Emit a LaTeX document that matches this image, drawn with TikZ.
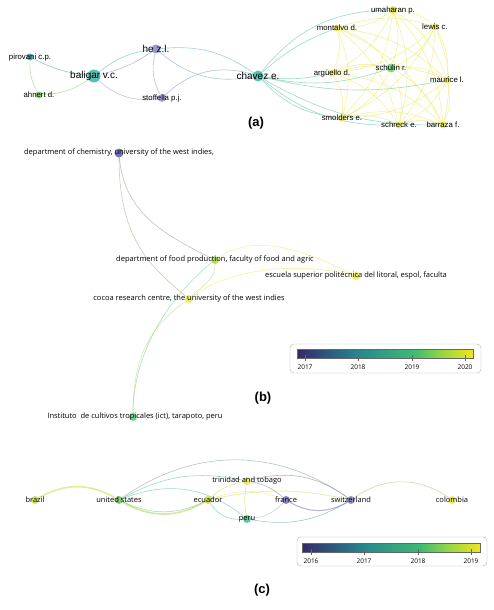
\documentclass[tikz,border=0pt]{standalone}
\usepackage{fontspec}
\setmainfont{Liberation Sans}
\newfontfamily\osans{Open Sans}
\pgfdeclarelayer{background}
\pgfsetlayers{background,main}
% colours of the year scale
\definecolor{vA}{HTML}{34296A}
\definecolor{vB}{HTML}{24858E}
\definecolor{vC}{HTML}{3CBC74}
\definecolor{vD}{HTML}{93D741}
\definecolor{vE}{HTML}{F2E51D}
\pgfdeclarehorizontalshading{viridis}{100bp}{color(0bp)=(vA); color(25bp)=(vA);
  color(41.7bp)=(vB); color(58.3bp)=(vC); color(66bp)=(vD); color(75bp)=(vE); color(100bp)=(vE)}
% node colours
\definecolor{cPir}{HTML}{3E9EA2}
\definecolor{cAhn}{HTML}{7CCF5C}
\definecolor{cBal}{HTML}{3FB3A8}
\definecolor{cCha}{HTML}{3DB5A2}
\definecolor{cHe}{HTML}{8884C6}
\definecolor{cSto}{HTML}{9896D0}
\definecolor{cYel}{HTML}{ECE64A}
\definecolor{cSch}{HTML}{6CCB7A}
\definecolor{cChem}{HTML}{5C5AA8}
\definecolor{cFood}{HTML}{A8D84A}
\definecolor{cIns}{HTML}{5DCA80}
\definecolor{cYG}{HTML}{C6DC40}
\definecolor{cUsa}{HTML}{6CC060}
\definecolor{cPur}{HTML}{7472B4}
\definecolor{cPer}{HTML}{40BE92}
\begin{document}
\begin{tikzpicture}[x=1pt,y=-1pt,
  au/.style={circle,inner sep=0pt,minimum size=#1,opacity=.85},
  au/.default=7pt,
  lbl/.style={inner sep=0pt,font=\fontsize{7.8}{8}\selectfont},
  big/.style={inner sep=0pt,font=\fontsize{10}{10}\selectfont},
  org/.style={inner sep=0pt,font=\osans\fontsize{7.5}{8}\selectfont},
  link/.style={line width=.6pt,opacity=.55},
  tag/.style={inner sep=0pt,font=\bfseries\fontsize{13}{14}\selectfont},
  yr/.style={inner sep=0pt,font=\osans\fontsize{6.5}{7}\selectfont}]
\useasboundingbox (0,0) rectangle (493,610);
% (a) authors
\node[au,fill=cPir] (pir) at (30,57) {};
\node[au,fill=cAhn] (ahn) at (39,95) {};
\node[au=13pt,fill=cBal] (bal) at (94,76) {};
\node[au=9pt,fill=cHe] (hez) at (156,49) {};
\node[au=8pt,fill=cSto] (sto) at (162,98) {};
\node[au=11pt,fill=cCha] (cha) at (258,76) {};
\node[au=8pt,fill=cYel!85!cSch] (uma) at (393,10) {};
\node[au,fill=cYel] (mon) at (337,28) {};
\node[au,fill=cYel] (lew) at (435,27) {};
\node[au,fill=cYel] (arg) at (332,73) {};
\node[au=9pt,fill=cSch] (sch) at (391,68) {};
\node[au,fill=cYel] (mau) at (447,80) {};
\node[au,fill=cYel] (smo) at (342,118) {};
\node[au,fill=cYel] (shr) at (399,125) {};
\node[au,fill=cYel] (bar) at (443,125) {};
\node[lbl] at (pir) {pirovani c.p.};
\node[lbl] at (ahn) {ahnert d.};
\node[big] at (bal) {baligar v.c.};
\node[big] at (hez) {he z.l.};
\node[lbl] at (sto) {stoffella p.j.};
\node[big] at (cha) {chavez e.};
\node[lbl] at (uma) {umaharan p.};
\node[lbl] at (mon) {montalvo d.};
\node[lbl] at (lew) {lewis c.};
\node[lbl] at (arg) {argüello d.};
\node[lbl] at (sch) {schulin r.};
\node[lbl] at (mau) {maurice l.};
\node[lbl] at (smo) {smolders e.};
\node[lbl] at (shr) {schreck e.};
\node[lbl] at (bar) {barraza f.};
\node[tag] (ta) at (256,123) {(a)};
\begin{pgfonlayer}{background}
\draw[link,cPir] (pir) to[bend right=10] (bal);
\draw[link,cAhn] (pir) to[bend right=15] (ahn);
\draw[link,cAhn] (ahn) to[bend right=15] (bal);
\draw[link,cBal] (bal) to[bend left=15] (hez);
\draw[link,cHe] (bal) to[bend right=10] (hez);
\draw[link,cSto!70!cBal] (bal) to[bend right=25] (sto);
\draw[link,cHe] (hez) to[bend right=20] (sto);
\draw[link,cBal] (hez) to[bend left=20] (cha);
\draw[link,cHe!60!cBal] (hez) to[bend right=25] (cha);
\draw[link,cHe!70!cBal] (sto) to[bend left=30] (cha);
\foreach \t/\b in {uma/25,mon/10,arg/-10,sch/-15,mau/-12,smo/-20,shr/-20,bar/-15}
  \draw[link,cBal!70!cSch] (cha) to[bend left=\b] (\t);
\foreach \s/\t in {uma/mon,uma/lew,uma/arg,uma/sch,uma/mau,uma/smo,uma/shr,uma/bar,
  mon/lew,mon/arg,mon/sch,mon/mau,mon/smo,mon/shr,mon/bar,lew/arg,lew/sch,lew/mau,
  lew/smo,lew/shr,lew/bar,arg/sch,arg/mau,arg/smo,arg/shr,arg/bar,sch/mau,sch/smo,
  sch/shr,sch/bar,mau/smo,mau/shr,mau/bar,smo/shr,smo/bar,shr/bar}
  \draw[link,cYel] (\s) to[bend left=18] (\t);
\end{pgfonlayer}
% (b) organizations
\node[au=9pt,fill=cChem] (chem) at (119,153) {};
\node[au=8pt,fill=cFood] (food) at (215,260) {};
\node[au=8pt,fill=cYel] (esc) at (356,276) {};
\node[au=8pt,fill=cYel] (coc) at (189,299) {};
\node[au=8pt,fill=cIns] (ins) at (133,417) {};
\node[org] at (chem) {department of chemistry, university of the west indies,};
\node[org] at (food) {department of food production, faculty of food and agric};
\node[org] at (esc) {escuela superior politécnica del litoral, espol, faculta};
\node[org] at (coc) {cocoa research centre, the university of the west indies};
\node[org] at ([xshift=2pt]ins) {Instituto\ \ de cultivos tropicales (ict), tarapoto, peru};
\node[tag] (tb) at (263,398) {(b)};
\begin{pgfonlayer}{background}
\draw[link,cChem!50!cFood] (chem) .. controls +(5,60) and +(-50,-25) .. (food);
\draw[link,cChem!50!cYel] (chem) .. controls +(0,90) and +(-35,-30) .. (coc);
\draw[link,cYel] (food) .. controls +(40,-28) and +(-50,-25) .. (esc);
\draw[link,cYel] (coc) .. controls +(40,-30) and +(-60,-15) .. (esc);
\draw[link,cFood] (food) .. controls +(0,20) and +(15,-15) .. (coc);
\draw[link,cIns] (food) .. controls +(-50,40) and +(0,-60) .. (ins);
\draw[link,cYel!60!cIns] (coc) .. controls +(-35,25) and +(0,-65) .. (ins);
\end{pgfonlayer}
% (b) year scale
\draw[gray!60,rounded corners=4pt] (290,344) rectangle (481,373);
\shade[shading=viridis] (297,349) rectangle (473,358);
\draw[gray!80!black,line width=.5pt] (297,349) rectangle (473,358);
\foreach \x/\y in {305/2017,358/2018,412/2019,465/2020} {
  \draw[gray!80!black] (\x,355) -- (\x,361);
  \node[yr] at (\x,367) {\y};
}
% (c) countries
\node[au=8pt,fill=cYG] (bra) at (35,500) {};
\node[au=8pt,fill=cUsa] (usa) at (119,500) {};
\node[au=8pt,fill=cYG] (ecu) at (208,500) {};
\node[au=8pt,fill=cYel!90!cSch] (tri) at (247,481) {};
\node[au=8pt,fill=cPur] (fra) at (286,500) {};
\node[au=8pt,fill=cPur!90!white] (swi) at (351,500) {};
\node[au=8pt,fill=cYel] (col) at (452,500) {};
\node[au=8pt,fill=cPer] (per) at (247,519) {};
\node[org] at (bra) {brazil};
\node[org] at (usa) {united states};
\node[org] at (ecu) {ecuador};
\node[org] at (tri) {trinidad and tobago};
\node[org] at (fra) {france};
\node[org] at (swi) {switzerland};
\node[org] at (col) {colombia};
\node[org] at (per) {peru};
\node[tag] (tc) at (262,590) {(c)};
\begin{pgfonlayer}{background}
\draw[link,cYG,line width=1.6pt] (bra) to[bend left=30] (usa);
\draw[link,cFood,line width=1.6pt] (usa) to[bend right=30] (ecu);
\draw[link,cUsa] (usa) to[bend right=25] (ecu);
\draw[link,cUsa!60!cBal] (usa) to[bend left=20] (tri);
\draw[link,cPer] (usa) to[bend left=30] (per);
\draw[link,cPur!50!cUsa] (usa) to[bend left=35] (swi);
\draw[link,cYG] (ecu) to[bend left=15] (tri);
\draw[link,cYel] (ecu) to[bend left=20] (fra);
\draw[link,cYG] (ecu) to[bend left=12] (swi);
\draw[link,cPer] (ecu) to[bend right=30] (per);
\draw[link,cYG] (tri) to[bend right=10] (per);
\draw[link,cPur] (tri) to[bend left=15] (fra);
\draw[link,cPur!70!gray] (tri) to[bend left=25] (swi);
\draw[link,cPur,line width=1pt] (fra) to[bend right=30] (swi);
\draw[link,cPur!60!white] (fra) to[bend left=20] (per);
\draw[link,cPer!50!cPur] (per) to[bend right=20] (swi);
\draw[link,cPur!50!cYel] (swi) to[bend left=35] (col);
\end{pgfonlayer}
% (c) year scale
\draw[gray!60,rounded corners=4pt] (297,537) rectangle (487,566);
\shade[shading=viridis] (302,543) rectangle (480,552);
\draw[gray!80!black,line width=.5pt] (302,543) rectangle (480,552);
\foreach \x/\y in {311/2016,364/2017,418/2018,471/2019} {
  \draw[gray!80!black] (\x,549) -- (\x,555);
  \node[yr] at (\x,561) {\y};
}
\end{tikzpicture}
\end{document}
